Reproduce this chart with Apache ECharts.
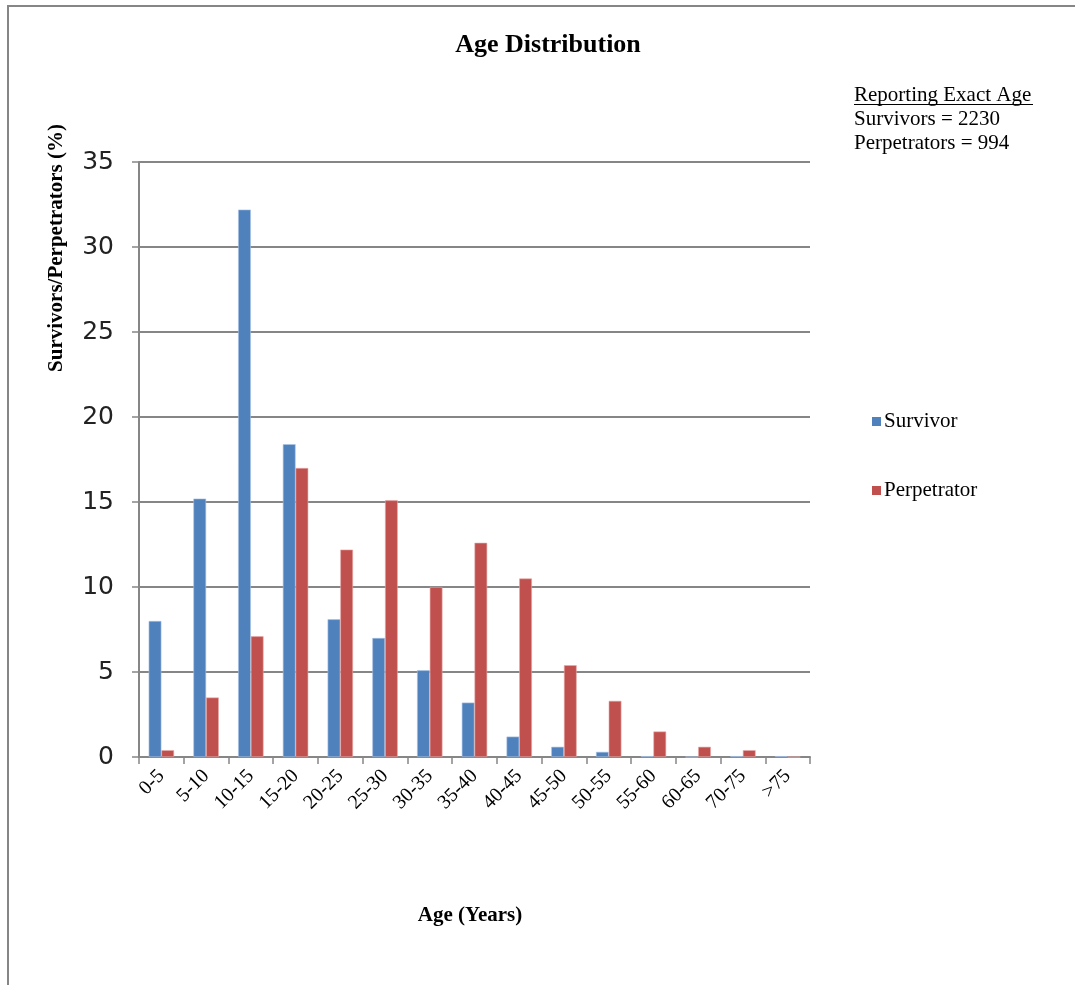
<!DOCTYPE html>
<html>
<head>
<meta charset="utf-8">
<script src="https://cdn.jsdelivr.net/npm/echarts@6/dist/echarts.min.js"></script>
<style>
  html, body { margin: 0; padding: 0; background: #fff; }
  #chart { width: 1075px; height: 985px; }
</style>
</head>
<body>
<div id="chart"></div>
<script>
// categories (no 65-70 group in the source)
const ageGroups = ["0-5", "5-10", "10-15", "15-20", "20-25", "25-30", "30-35", "35-40",
  "40-45", "45-50", "50-55", "55-60", "60-65", "70-75", ">75"];

// percent values
const survivorPct = [8.0, 15.2, 32.2, 18.4, 8.1, 7.0, 5.1, 3.2, 1.2, 0.6, 0.3, 0.05, 0, 0.05, 0.05];
const perpetratorPct = [0.4, 3.5, 7.1, 17.0, 12.2, 15.1, 10.0, 12.6, 10.5, 5.4, 3.3, 1.5, 0.6, 0.4, 0];

const yTicks = { min: 0, max: 35, interval: 5 };

const noteLines = ["Reporting Exact Age", "Survivors = 2230", "Perpetrators = 994"];

const serif = "'Liberation Serif', 'Times New Roman', serif";
const gridGray = "#868686";

const chart = echarts.init(document.getElementById("chart"));

const option = {
  backgroundColor: "#fff",
  animation: false,
  title: {
    text: "Age Distribution",
    left: 543,
    top: 27,
    textAlign: "center",
    textStyle: { fontFamily: serif, fontSize: 26, fontWeight: "bold", color: "#000" },
  },
  legend: {
    orient: "vertical",
    left: 867,
    top: 406,
    itemWidth: 9,
    itemHeight: 9,
    itemGap: 48,
    icon: "rect",
    itemStyle: { borderWidth: 0 },
    textStyle: { fontFamily: serif, fontSize: 21, color: "#000", padding: [0, 0, 0, -2] },
    data: ["Survivor", "Perpetrator"],
  },
  grid: {
    left: 139,
    top: 162,
    width: 671,
    height: 595,
  },
  xAxis: {
    type: "category",
    data: ageGroups,
    boundaryGap: true,
    axisLine: { lineStyle: { color: gridGray, width: 2 } },
    axisTick: { show: true, alignWithLabel: false, length: 7, lineStyle: { color: gridGray, width: 1.5 } },
    axisLabel: {
      rotate: 45,
      interval: 0,
      margin: 16,
      fontFamily: serif,
      fontSize: 20,
      color: "#000",
    },
  },
  yAxis: {
    type: "value",
    min: yTicks.min,
    max: yTicks.max,
    interval: yTicks.interval,
    axisLine: { show: true, lineStyle: { color: gridGray, width: 2 } },
    axisTick: { show: true, length: 7, lineStyle: { color: gridGray, width: 1.5 } },
    splitLine: { lineStyle: { color: gridGray, width: 2 } },
    axisLabel: {
      margin: 25,
      fontFamily: "'DejaVu Sans', sans-serif",
      fontSize: 25,
      color: "#222",
    },
  },
  series: [
    {
      name: "Survivor",
      type: "bar",
      data: survivorPct,
      barWidth: 12.7,
      barGap: "0%",
      itemStyle: { color: "#4F81BD", borderColor: "#A9C2E4", borderWidth: 0.6 },
    },
    {
      name: "Perpetrator",
      type: "bar",
      data: perpetratorPct,
      barWidth: 12.7,
      barGap: "0%",
      itemStyle: { color: "#C0504D", borderColor: "#E6A9A7", borderWidth: 0.6 },
    },
  ],
  graphic: [
    // outer frame (left and top edges only)
    {
      type: "polyline",
      shape: { points: [[8, 985], [8, 6], [1075, 6]] },
      style: { stroke: gridGray, lineWidth: 2, fill: null },
    },
    {
      type: "text",
      x: 57,
      y: 248,
      rotation: Math.PI / 2,
      style: {
        text: "Survivors/Perpetrators (%)",
        fontFamily: serif,
        fontSize: 21,
        fontWeight: "bold",
        fill: "#000",
        align: "center",
        verticalAlign: "middle",
      },
    },
    {
      type: "text",
      x: 470,
      y: 916,
      style: {
        text: "Age (Years)",
        fontFamily: serif,
        fontSize: 21,
        fontWeight: "bold",
        fill: "#000",
        align: "center",
        verticalAlign: "middle",
      },
    },
    {
      type: "text",
      x: 854,
      y: 83,
      style: {
        text: noteLines.join("\n"),
        fontFamily: serif,
        fontSize: 21,
        lineHeight: 24,
        fill: "#000",
        align: "left",
        verticalAlign: "top",
      },
    },
    {
      type: "line",
      shape: { x1: 854, y1: 104.5, x2: 1033, y2: 104.5 },
      style: { stroke: "#000", lineWidth: 1 },
    },
  ],
};

chart.setOption(option);
</script>
</body>
</html>
